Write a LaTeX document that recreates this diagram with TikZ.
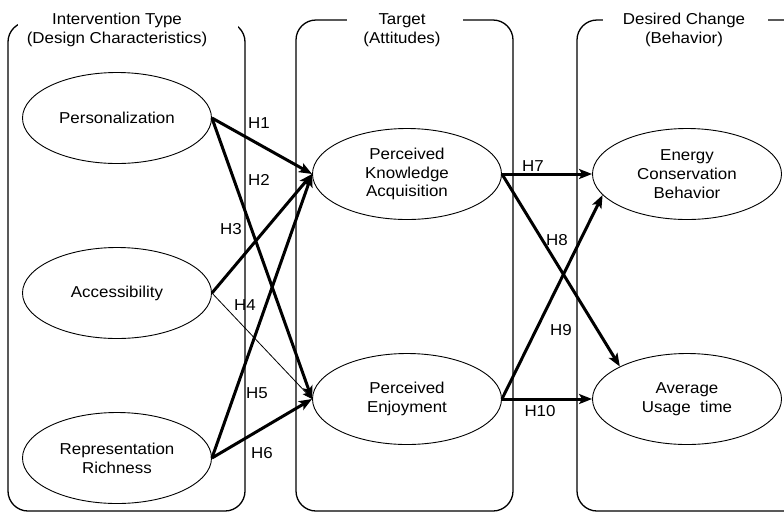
\documentclass[tikz,border=0pt]{standalone}
\usepackage{fontspec}
\setmainfont{Liberation Sans}[FakeStretch=1.07]
\usetikzlibrary{arrows.meta,shapes.geometric}
\begin{document}
\begin{tikzpicture}[x=1pt,y=-1pt,
  font=\fontsize{15.8}{18.8}\selectfont,
  colbox/.style={line width=1.3pt, rounded corners=20pt},
  cover/.style={fill=white},
  ttl/.style={align=center, inner sep=0pt},
  ell/.style={ellipse, draw, line width=0.9pt, minimum width=189pt, minimum height=91pt, align=center, inner sep=0pt},
  arr/.style={line width=3pt, -{Stealth[length=13pt,width=10pt,inset=3pt]}},
  thinarr/.style={line width=0.8pt, -{Stealth[length=10pt,width=7pt,inset=2pt]}},
  lab/.style={inner sep=0pt}]
\useasboundingbox (0,0) rectangle (784,512);
\clip (0,0) rectangle (784,512);
% column boxes
\draw[colbox] (8,22) rectangle (245,511);
\fill[cover] (18,12) rectangle (238,30);
\draw[colbox] (296,20) rectangle (513,511);
\fill[cover] (347,12) rectangle (463,28);
\draw[colbox] (577,20) rectangle (805,511);
\fill[cover] (603,12) rectangle (768,28);
% titles
\node[ttl] (t1) at (117,30) {Intervention Type\\(Design Characteristics)};
\node[ttl] (t2) at (402,30) {Target\\(Attitudes)};
\node[ttl] (t3) at (684,30) {Desired Change\\(Behavior)};
% ellipses
\node[ell] (P) at (117,118) {Personalization};
\node[ell] (A) at (117,293) {Accessibility};
\node[ell] (R) at (117,458) {Representation\\Richness};
\node[ell] (K) at (407,174) {Perceived\\Knowledge\\Acquisition};
\node[ell] (E) at (407,399) {Perceived\\Enjoyment};
\node[ell] (C) at (687,174) {Energy\\Conservation\\Behavior};
\node[ell] (U) at (687,399) {Average\\Usage\ \ time};
% arrows
\draw[arr] (P.east) -- (K.west);
\draw[arr] (P.east) -- (E.west);
\draw[arr] (A.east) -- (K.west);
\draw[thinarr] (A.east) -- (E.west);
\draw[arr] (R.east) -- (K.west);
\draw[arr] (R.east) -- (E.west);
\draw[arr] (K.east) -- (C.west);
\draw[arr] (K.east) -- (U.north west);
\draw[arr] (E.east) -- (C.194);
\draw[arr] (E.east) -- (U.west);
% labels
\node[lab] (h1) at (259,123) {H1};
\node[lab] (h2) at (259,180) {H2};
\node[lab] (h3) at (231,229) {H3};
\node[lab] (h4) at (245,305) {H4};
\node[lab] (h5) at (257,393) {H5};
\node[lab] (h6) at (262,453) {H6};
\node[lab] (h7) at (533,166) {H7};
\node[lab] (h8) at (557,240) {H8};
\node[lab] (h9) at (561,330) {H9};
\node[lab] (h10) at (540,411) {H10};
\end{tikzpicture}
\end{document}
